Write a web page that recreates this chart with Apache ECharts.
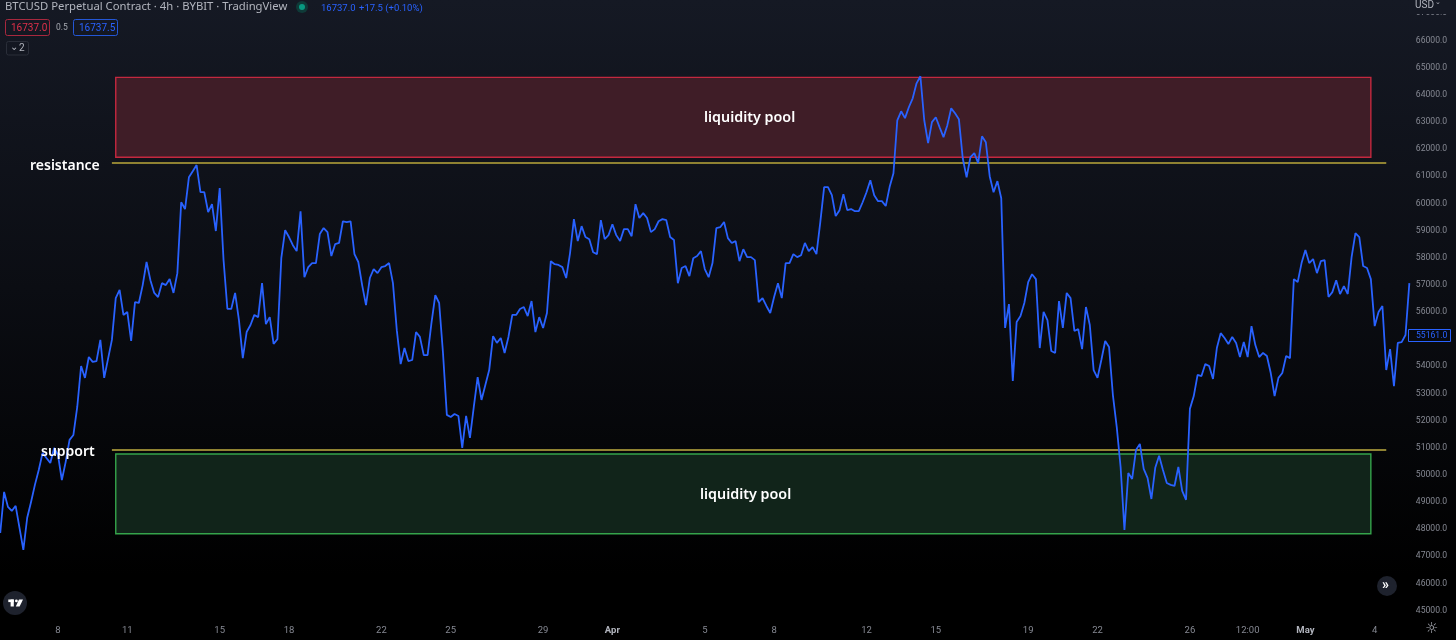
<!DOCTYPE html>
<html>
<head>
<meta charset="utf-8">
<title>BTCUSD</title>
<style>
html,body{margin:0;padding:0;background:#000;}
#chart{width:1456px;height:640px;}
</style>
<script src="https://cdn.jsdelivr.net/npm/echarts@6/dist/echarts.min.js"></script>
</head>
<body>
<div id="chart"></div>
<script>
// 4h closes, bar 0 is 5 Mar 12:00
var prices = [
47860,49370,48820,48670,48860,48050,47240,48420,49000,49630,50180,50810,50620,50440,50990,50730,49810,50480,51290,51470,
52500,54010,53570,54340,54160,54190,54970,53570,54270,54970,56510,56810,55890,56000,54930,56360,56330,56990,57840,57170,
56700,56550,57060,56990,57210,56700,57430,60040,59790,60960,61180,61410,60410,60410,59680,59970,58980,60560,57910,56110,
56110,56700,55700,54300,55260,55520,55890,55810,57060,55550,55810,54820,55000,57980,59010,58760,58460,58240,59710,57280,
57650,57800,57800,58870,59090,58940,58060,58500,58540,59340,59310,59340,58130,57840,56990,56250,57250,57580,57430,57650,
57690,57800,57060,55330,54080,54670,54190,54230,55260,55080,54410,54410,55590,56620,56330,54490,52210,52130,52240,52170,
50990,52170,51360,52500,53600,52760,53310,53860,55110,54860,55040,54490,55080,55890,55890,56110,56180,55850,56400,55260,
55810,55410,55960,57870,57760,57730,57650,57250,58170,59420,58610,59160,58760,58680,58200,58130,59380,58680,58830,59230,
58830,58610,59050,59050,58790,59970,59460,59640,59460,58940,59050,59340,59420,59380,58760,58650,57060,57620,57690,57320,
57980,58060,58240,57580,57280,57800,59090,59120,59310,58720,58540,58610,57870,58310,58020,58020,57910,56360,56510,56220,
55960,56550,57060,56510,57800,57800,58130,58020,58090,58540,58240,58390,58130,59310,60600,60600,60300,59530,59750,60340,
59750,59790,59710,59710,60040,60410,60850,60300,60080,60080,59900,60600,61110,63060,63390,63140,63540,63870,64420,64680,
63060,62220,62990,63170,62800,62440,62880,63500,63320,63100,61660,60960,61700,61850,61480,62470,62250,61000,60410,60820,
60190,55410,56290,53460,55630,55850,56330,57100,57390,57210,54670,56000,55700,54560,54490,56400,55410,56700,56510,55300,
55370,54630,56180,55520,53860,53570,54230,54930,54710,52940,51760,50290,47970,50070,49850,50920,51140,50220,49890,49110,
50260,50700,50180,49700,49630,49590,50290,49410,49080,52430,52900,53680,53640,54080,54010,53530,54670,55220,55040,54820,
55080,54860,54340,54890,54340,55480,54780,54340,54490,54380,53750,52900,53570,53750,54380,54300,57210,57100,57800,58280,
57800,57950,57430,57870,57910,56550,56730,57170,56660,56950,56660,58020,58900,58760,57690,57620,57210,55480,56000,56220,
53860,54630,53270,54860,54890,55150,57060
];

var tickBars = [15,33,57,75,99,117,141,159,183,201,225,243,267,285,309,324,339,357];
var tickLabels = ['8','11','15','18','22','25','29','Apr','5','8','12','15','19','22','26','12:00','May','4'];
var boldTicks = ['Apr','May'];

var resistance = 61480;
var support = 50920;
var redZone = [61700,64640];
var greenZone = [47830,50770];
var zoneBars = [30,356];
var levelBars = [29,360];
var lastPrice = '55161.0';

var chart = echarts.init(document.getElementById('chart'));

var categories = prices.map(function(p,i){ return String(i); });

function txt(x,y,s,color,size,weight,family){
    return {
        type:'text', x:x, y:y, z:50,
        style:{text:s, fill:color, fontSize:size, fontWeight:weight||'normal',
            fontFamily:family||'Roboto', textVerticalAlign:'middle'}
    };
}
function box(x,y,w,h,stroke,fill){
    return {
        type:'rect', z:49,
        shape:{x:x,y:y,width:w,height:h,r:2},
        style:{stroke:stroke,fill:fill||'none',lineWidth:1}
    };
}

var option = {
    animation:false,
    backgroundColor:new echarts.graphic.LinearGradient(0,0,0,1,[
        {offset:0,color:'#151924'},
        {offset:0.45,color:'#0b0d13'},
        {offset:0.9,color:'#000000'},
        {offset:1,color:'#000000'}
    ]),
    grid:{left:0.25,right:46.65,top:13.3,bottom:29.4,containLabel:false},
    xAxis:{
        type:'category',
        data:categories,
        boundaryGap:false,
        axisLine:{show:false},
        axisTick:{show:false},
        splitLine:{show:false},
        axisLabel:{
            margin:15,
            fontSize:9.5,
            fontFamily:'Roboto',
            color:'#868993',
            hideOverlap:false,
            interval:function(i){ return tickBars.indexOf(i)>=0; },
            formatter:function(v,i){
                var s = tickLabels[tickBars.indexOf(i)];
                return boldTicks.indexOf(s)>=0 ? '{b|'+s+'}' : s;
            },
            rich:{b:{fontSize:9.5,fontWeight:'bold',fontFamily:'Roboto',color:'#b2b5be'}}
        }
    },
    yAxis:{
        type:'value',
        position:'right',
        min:45000,
        max:67000,
        interval:1000,
        axisLine:{show:false},
        axisTick:{show:false},
        splitLine:{show:false},
        axisLabel:{
            margin:6.5,
            fontSize:8.6,
            fontFamily:'Roboto',
            color:'#868993',
            formatter:function(v){ return v.toFixed(1); }
        }
    },
    series:[
        {
            name:'zones',
            type:'line',
            z:1,
            data:[],
            silent:true,
            markArea:{
                silent:true,
                data:[
                    [{xAxis:zoneBars[0],yAxis:redZone[1],itemStyle:{color:'#3f1d27',borderColor:'#c4283f',borderWidth:1.4}},
                     {xAxis:zoneBars[1],yAxis:redZone[0]}],
                    [{xAxis:zoneBars[0],yAxis:greenZone[1],itemStyle:{color:'#11241a',borderColor:'#35a44b',borderWidth:1.4}},
                     {xAxis:zoneBars[1],yAxis:greenZone[0]}]
                ]
            },
            markLine:{
                silent:true,
                symbol:'none',
                label:{show:false},
                lineStyle:{color:'#8f8232',width:2,type:'solid'},
                data:[
                    [{xAxis:levelBars[0],yAxis:resistance},{xAxis:levelBars[1],yAxis:resistance}],
                    [{xAxis:levelBars[0],yAxis:support},{xAxis:levelBars[1],yAxis:support}]
                ]
            }
        },
        {
            name:'BTCUSD',
            type:'line',
            z:5,
            data:prices,
            showSymbol:false,
            symbol:'none',
            smooth:false,
            lineStyle:{color:'#2962ff',width:1.8}
        }
    ],
    graphic:[
        // header
        txt(5,7,'BTCUSD Perpetual Contract · 4h · BYBIT · TradingView','#b2b5be',11.3,'normal','Noto Sans'),
        {type:'circle',z:49,shape:{cx:302,cy:7,r:6},style:{fill:'#0f3a38'}},
        {type:'circle',z:50,shape:{cx:302,cy:7,r:3},style:{fill:'#089981'}},
        txt(321,9,'16737.0','#2962ff',9.5),
        txt(359,9,'+17.5 (+0.10%)','#2962ff',9.5),
        box(5.5,19.5,44,16,'#a8283e'),
        txt(11,28,'16737.0','#e0304a',10),
        txt(56,27.5,'0.5','#a5a8b0',8.5),
        box(73.5,19.5,44,16,'#2457d6'),
        txt(79,28,'16737.5','#2962ff',10),
        box(6.5,41.5,22,13.5,'#2a2e39'),
        txt(10,47,'⌄','#b2b5be',10,'normal','DejaVu Sans'),
        txt(19,48,'2','#b2b5be',10),
        // price scale top, hides the upper part of the 67000 label
        {type:'rect',z:48,shape:{x:1409,y:0,width:47,height:14},style:{fill:'#151924'}},
        txt(1415,5.5,'USD','#b2b5be',10),
        txt(1435,2.5,'⌄','#b2b5be',7,'normal','DejaVu Sans'),
        // last price tag
        {type:'rect',z:49,shape:{x:1408.5,y:329.5,width:42,height:12},style:{fill:'#080a0f',stroke:'#2962ff',lineWidth:1}},
        txt(1416,335.5,lastPrice,'#2962ff',8.6),
        // logo and buttons
        {type:'circle',z:49,shape:{cx:15,cy:603,r:12},style:{fill:'#1e222d'}},
        {type:'rect',z:50,shape:{x:8.3,y:599.5,width:5.5,height:2.6},style:{fill:'#ffffff'}},
        {type:'rect',z:50,shape:{x:10.6,y:599.5,width:3.2,height:7},style:{fill:'#ffffff'}},
        {type:'circle',z:50,shape:{cx:16.4,cy:600.9,r:1.4},style:{fill:'#ffffff'}},
        {type:'polygon',z:50,shape:{points:[[19,599.5],[23,599.5],[19.6,606.5],[15.8,606.5]]},style:{fill:'#ffffff'}},
        {type:'circle',z:49,shape:{cx:1387,cy:586,r:10},style:{fill:'#1e222d'}},
        txt(1382,585,'»','#ffffff',14,'bold','Roboto'),
        txt(1425,629,'☼','#b2b5be',15,'normal','DejaVu Sans'),
        // annotations
        txt(30,166,'resistance','#ffffff',14,'600','Noto Sans'),
        txt(41,452,'support','#ffffff',14,'600','Noto Sans'),
        txt(704,117.5,'liquidity pool','#ffffff',14.3,'600','Noto Sans'),
        txt(700,494.5,'liquidity pool','#ffffff',14.3,'600','Noto Sans')
    ]
};
chart.setOption(option);
</script>
</body>
</html>
